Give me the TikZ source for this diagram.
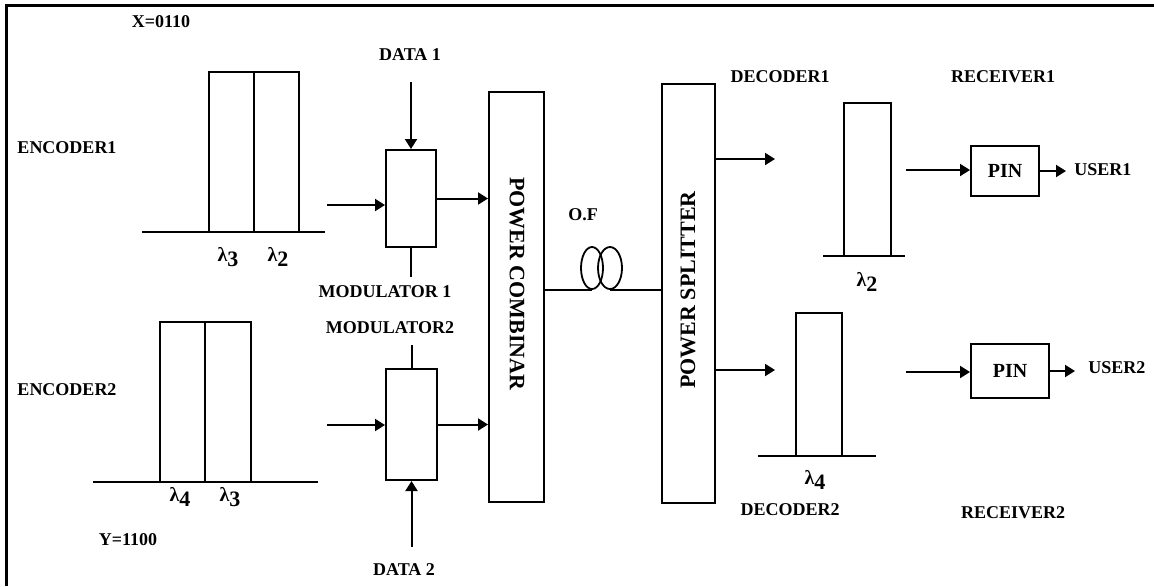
\documentclass[tikz,border=0pt]{standalone}
\usepackage{fontspec}
\setmainfont{Liberation Serif}
\usetikzlibrary{arrows.meta,shapes.geometric}
\tikzset{
  lbl/.style={font=\fontsize{9}{11}\selectfont\bfseries, inner sep=0pt},
  lam/.style={font=\fontsize{10}{12}\selectfont\bfseries, inner sep=0pt},
  box/.style={draw, line width=1pt, inner sep=0pt, minimum width=#1},
  box/.default=10pt,
  ln/.style={line width=1pt},
  arr/.style={line width=1pt, -{Triangle[length=5pt,width=6pt]}},
  coil/.style={draw, ellipse, line width=0.9pt, inner sep=0pt, minimum width=11pt, minimum height=21pt}
}
\newcommand{\lamb}[1]{λ\raisebox{-0.55ex}{\fontsize{11}{12}\selectfont #1}}
\begin{document}
\begin{tikzpicture}[x=0.5pt,y=-0.5pt]
\useasboundingbox (0,0) rectangle (1154,586);
% frame (left and top visible)
\draw[line width=1.5pt] (6,586) -- (6,5) -- (1154,5);

% main blocks
\node[box=25pt, minimum height=48.5pt] (mod1) at (411,198.5) {};
\node[box=25.5pt, minimum height=55.5pt] (mod2) at (411.5,424.5) {};
\node[box=27.5pt, minimum height=205pt] (comb) at (516.5,297) {};
\node[box=26.5pt, minimum height=209.5pt] (split) at (688.5,293.5) {};
\node[box=34pt, minimum height=25pt, font=\fontsize{10}{12}\selectfont\bfseries] (pin1) at (1005,171) {PIN};
\node[box=39pt, minimum height=27pt, font=\fontsize{10}{12}\selectfont\bfseries] (pin2) at (1010,371) {PIN};
\node[font=\fontsize{11}{13}\selectfont\bfseries, rotate=-90] (combt) at (517,284) {POWER COMBINAR};
\node[font=\fontsize{11}{13}\selectfont\bfseries, rotate=90] (splitt) at (688,290) {POWER SPLITTER};

% fibre coils
\node[coil] (c1) at (592,268) {};
\node[coil, minimum width=12pt] (c2) at (610,268) {};
\draw[ln] (comb.east |- c1.south) -- (c1.south);
\draw[ln] (c2.south) -- (split.west |- c2.south);

% encoder spectra
\draw[ln] (142,232) -- (325,232);
\draw[ln] (209,232) -- (209,72) -- (299,72) -- (299,232);
\draw[ln] (254,72) -- (254,232);
\draw[ln] (93,482) -- (318,482);
\draw[ln] (160,482) -- (160,322) -- (251,322) -- (251,482);
\draw[ln] (205,322) -- (205,482);
% decoder spectra
\draw[ln] (823,256) -- (905,256);
\draw[ln] (844,256) -- (844,103) -- (891,103) -- (891,256);
\draw[ln] (758,456) -- (876,456);
\draw[ln] (796,456) -- (796,313) -- (842,313) -- (842,456);

% coordinates for free ends
\coordinate (e1o) at (327,205);
\coordinate (e2o) at (327,425);
\coordinate (d1) at (411,82);
\coordinate (d2) at (411.5,547);
\coordinate (m1t) at (411,277);
\coordinate (m2t) at (411.5,345);
\coordinate (s1) at (775,159);
\coordinate (s2) at (775,370);
\coordinate (r1) at (906,170);
\coordinate (r2) at (906,372);
\coordinate (u1) at (1066,171);
\coordinate (u2) at (1075,371);

% connectors
\draw[arr] (e1o) -- (e1o -| mod1.west);
\draw[arr] (e2o) -- (e2o -| mod2.west);
\draw[arr] (d1) -- (mod1.north);
\draw[arr] (d2) -- (mod2.south);
\draw[ln] (mod1.south) -- (m1t);
\draw[ln] (mod2.north) -- (m2t);
\draw[arr] (mod1.east) -- (mod1.east -| comb.west);
\draw[arr] (mod2.east) -- (mod2.east -| comb.west);
\draw[arr] (split.east |- s1) -- (s1);
\draw[arr] (split.east |- s2) -- (s2);
\draw[arr] (r1) -- (r1 -| pin1.west);
\draw[arr] (r2) -- (r2 -| pin2.west);
\draw[arr] (pin1.east) -- (pin1.east -| u1);
\draw[arr] (pin2.east) -- (pin2.east -| u2);

% labels
\node[lbl] (xl) at (161,22) {X=0110};
\node[lbl] (yl) at (128,540) {Y=1100};
\node[lbl] (enc1) at (67,148) {ENCODER1};
\node[lbl] (enc2) at (67,390) {ENCODER2};
\node[lbl] (dt1) at (410,55) {DATA 1};
\node[lbl] (dt2) at (404,570) {DATA 2};
\node[lbl] (ml1) at (385,292) {MODULATOR 1};
\node[lbl] (ml2) at (390,328) {MODULATOR2};
\node[lbl] (of) at (583,215) {O.F};
\node[lbl] (dec1) at (780,77) {DECODER1};
\node[lbl] (dec2) at (790,510) {DECODER2};
\node[lbl] (rec1) at (1003,77) {RECEIVER1};
\node[lbl] (rec2) at (1013,513) {RECEIVER2};
\node[lbl, anchor=west] (us1) at (1074,170) {USER1};
\node[lbl, anchor=west] (us2) at (1088,368) {USER2};
\node[lam] (l13) at (228,257) {\lamb{3}};
\node[lam] (l12) at (278,257) {\lamb{2}};
\node[lam] (l24) at (180,497) {\lamb{4}};
\node[lam] (l23) at (230,497) {\lamb{3}};
\node[lam] (ld2) at (867,282) {\lamb{2}};
\node[lam] (ld4) at (815,480) {\lamb{4}};
\end{tikzpicture}
\end{document}
